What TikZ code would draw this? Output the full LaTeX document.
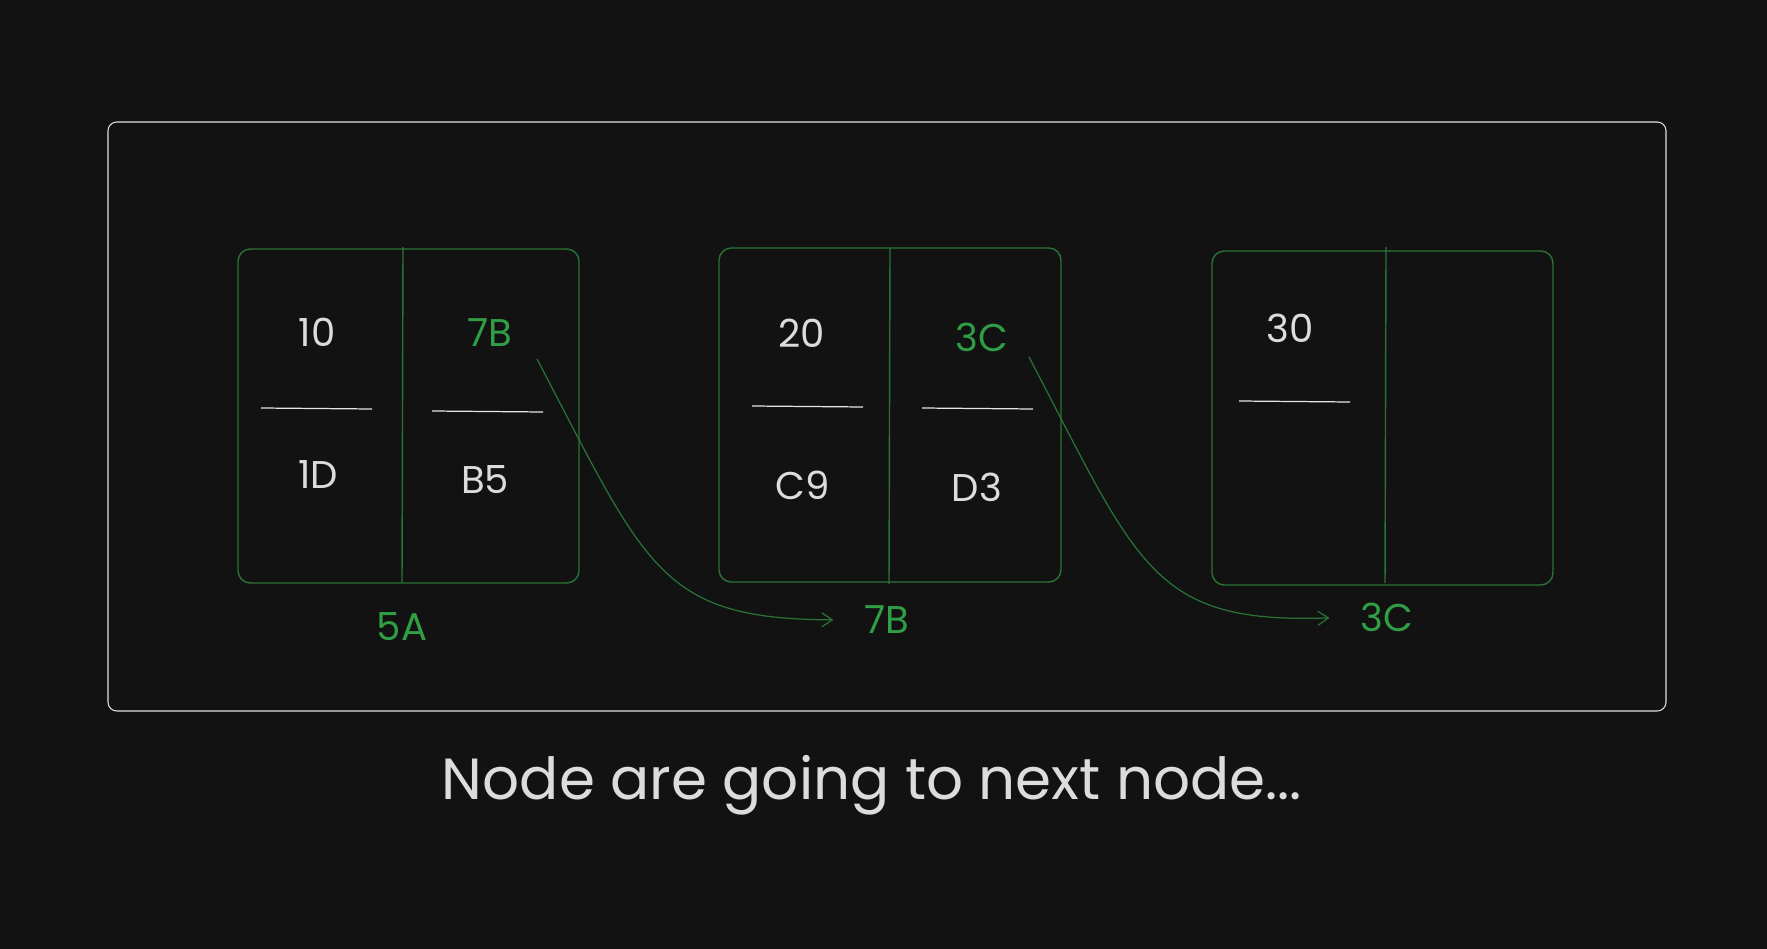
\documentclass[tikz,border=0pt]{standalone}
\usepackage{fontspec}
\setmainfont{Poppins}
\usetikzlibrary{arrows.meta}
\definecolor{bg}{HTML}{121212}
\definecolor{ink}{HTML}{DCDCDC}
\definecolor{leaf}{HTML}{2F9E44}
\definecolor{leafdark}{HTML}{2A7236}
\begin{document}
\begin{tikzpicture}[x=0.02cm,y=-0.02cm,
		cell/.style={draw=leafdark,line width=0.8pt,rounded corners=7pt},
		split/.style={draw=leafdark,line width=0.8pt},
		rule/.style={draw=ink!75,line width=0.7pt},
		val/.style={text=ink,font=\fontsize{22}{22}\selectfont},
		ptr/.style={text=leaf,font=\fontsize{22}{22}\selectfont},
		link/.style={draw=leafdark,line width=0.7pt,shorten >=0.5cm,-{Straight Barb[length=6pt,width=8pt]}}]
		\fill[bg] (0,0) rectangle (1767,949);
		\draw[ink!85,line width=0.6pt,rounded corners=5pt] (108,122) rectangle (1666,711);
		% first node
		\draw[cell] (238,249) rectangle (579,583);
		\draw[split] (403,247) -- (402,583);
		\draw[rule] (261,408) -- (372,409);
		\draw[rule] (432,411) -- (543,412);
		\node[val] (t10) at (317,332) {10};
		\node[ptr] (t7B) at (490,333) {7B};
		\node[val] (t1D) at (318,475) {1D};
		\node[val] (tB5) at (485,480) {B5};
		\node[ptr] (l5A) at (402,627) {5A};
		\coordinate (from1) at (537,359);
		% second node
		\draw[cell] (719,248) rectangle (1061,582);
		\draw[split] (890,248) -- (889,584);
		\draw[rule] (752,406) -- (863,407);
		\draw[rule] (922,408) -- (1033,409);
		\node[val] (t20) at (802,333) {20};
		\node[ptr] (t3C) at (982,337) {3C};
		\node[val] (tC9) at (803,485) {C9};
		\node[val] (tD3) at (977,487) {D3};
		\node[ptr] (l7B) at (887,620) {7B};
		\coordinate (from2) at (1029,357);
		% third node
		\draw[cell] (1212,251) rectangle (1553,585);
		\draw[split] (1386,247) -- (1385,583);
		\draw[rule] (1239,401) -- (1350,402);
		\node[val] (t30) at (1290,328) {30};
		\node[ptr] (l3C) at (1387,617) {3C};
		% links
		\draw[link] (from1) .. controls (647,569) and (660,619) .. (l7B.west);
		\draw[link] (from2) .. controls (1139,567) and (1152,624) .. (l3C.west);
		\node[text=ink,font=\fontsize{33}{33}\selectfont] (caption) at (872,785) {Node are going to next node...};
	\end{tikzpicture}
\end{document}
